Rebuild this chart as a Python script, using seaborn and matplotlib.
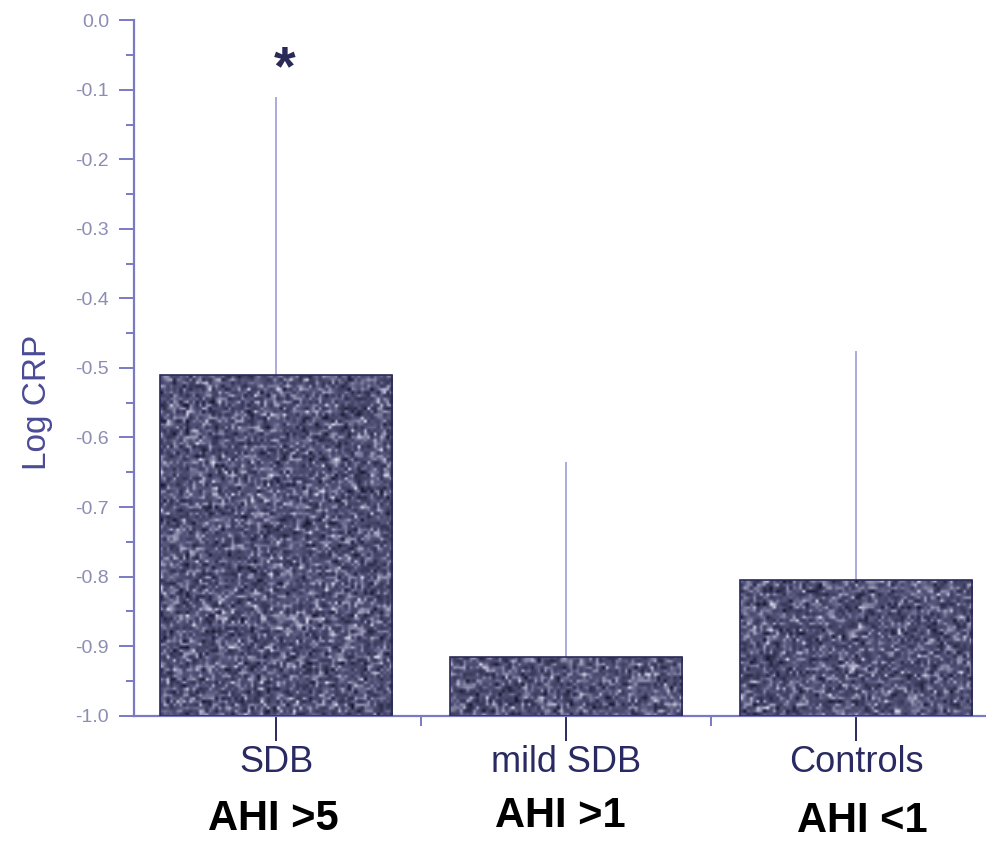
import numpy as np
import pandas as pd
import matplotlib
matplotlib.use("Agg")
import matplotlib.pyplot as plt
import seaborn as sns
from matplotlib.ticker import MultipleLocator, FixedLocator, FuncFormatter
from matplotlib.colors import LinearSegmentedColormap
from matplotlib.transforms import blended_transform_factory

# Log CRP by sleep-disordered-breathing group
groups = ["SDB", "mild SDB", "Controls"]
ahi_labels = ["AHI >5", "AHI >1", "AHI <1"]
log_crp_mean = [-0.51, -0.915, -0.805]
log_crp_sd = [0.40, 0.28, 0.33]
significance = ["*", "", ""]
baseline = -1.0

df = pd.DataFrame({"group": groups, "mean": log_crp_mean, "sd": log_crp_sd})

sns.set_theme(style="white")
plt.rcParams["font.family"] = ["Liberation Sans", "DejaVu Sans"]
plt.rcParams["axes.unicode_minus"] = False

axis_col = "#7a7ac4"
tick_txt = "#8c8cb4"
label_col = "#2a2a62"

fig = plt.figure(figsize=(9.86, 8.41), dpi=100)
ax = fig.add_axes([0.136, 0.149, 0.864, 0.827])

sns.barplot(data=df, x="group", y="mean", ax=ax, width=0.8, color="#55557a",
            edgecolor="#2a2a58", linewidth=1.2, errorbar=None, zorder=2)

# bars rise from the bottom of the axis instead of from zero
for p in ax.patches:
    top = p.get_y() + p.get_height()
    p.set_y(baseline)
    p.set_height(top - baseline)

# upper standard deviation whiskers
xpos = np.arange(len(groups))
ax.errorbar(xpos, df["mean"], yerr=[np.zeros(len(groups)), df["sd"]], fmt="none",
            ecolor="#a4a4dc", elinewidth=1.3, capsize=0, zorder=1)

# grainy fill inside each bar
grain = LinearSegmentedColormap.from_list("grain", ["#14142e", "#56567c", "#e0e0f2"])
rng = np.random.default_rng(11)
for p in list(ax.patches):
    x0, y0, w, h = p.get_x(), p.get_y(), p.get_width(), p.get_height()
    nx, ny = max(int(w * 90), 2), max(int(h * 220), 2)
    tex = np.clip(rng.normal(0.47, 0.2, (ny, nx)), 0, 1)
    im = ax.imshow(tex, extent=[x0, x0 + w, y0, y0 + h], cmap=grain, vmin=0, vmax=1,
                   aspect="auto", interpolation="bilinear", zorder=2.5)
    im.set_clip_path(p)
    p.set_facecolor("none")
    p.set_zorder(3)

for i, mark in enumerate(significance):
    if mark:
        top = df["mean"][i] + df["sd"][i]
        ax.text(i + 0.03, top + 0.0, mark, ha="center", va="bottom",
                fontsize=40, fontweight="bold", color="#2a2a58")

ax.set_ylim(-1.0, 0.0)
ax.set_xlim(-0.49, 2.447)

ax.yaxis.set_major_locator(MultipleLocator(0.1))
ax.yaxis.set_minor_locator(MultipleLocator(0.05))
ax.yaxis.set_major_formatter(FuncFormatter(lambda v, _: f"{v:.1f}".replace("-0.0", "0.0")))
ax.xaxis.set_minor_locator(FixedLocator([0.5, 1.5]))

ax.set_xlabel("")
ax.set_ylabel("Log CRP", fontsize=24, color="#4a4a96")
ax.yaxis.set_label_coords(-0.095, 0.45)

for s in ["top", "right"]:
    ax.spines[s].set_visible(False)
for s in ["left", "bottom"]:
    ax.spines[s].set_color(axis_col)
    ax.spines[s].set_linewidth(1.6)

ax.tick_params(axis="y", which="major", direction="out", length=11, width=1.4,
               color=axis_col, labelsize=14, labelcolor=tick_txt, pad=7, left=True)
ax.tick_params(axis="y", which="minor", direction="out", length=6, width=1.4,
               color=axis_col, left=True)
ax.tick_params(axis="x", which="major", direction="out", length=18, width=1.4,
               color=label_col, labelsize=26, labelcolor=label_col, pad=3, bottom=True)
ax.tick_params(axis="x", which="minor", direction="out", length=7, width=1.4,
               color=axis_col, bottom=True)

trans = blended_transform_factory(ax.transData, fig.transFigure)
ahi_y = [0.026, 0.030, 0.024]
ahi_dx = [-0.01, -0.02, 0.02]
for i, lab in enumerate(ahi_labels):
    ax.text(i + ahi_dx[i], ahi_y[i], lab, transform=trans, ha="center", va="center",
            fontsize=30, fontweight="bold", color="black")

fig.savefig("out.png", dpi=100)
